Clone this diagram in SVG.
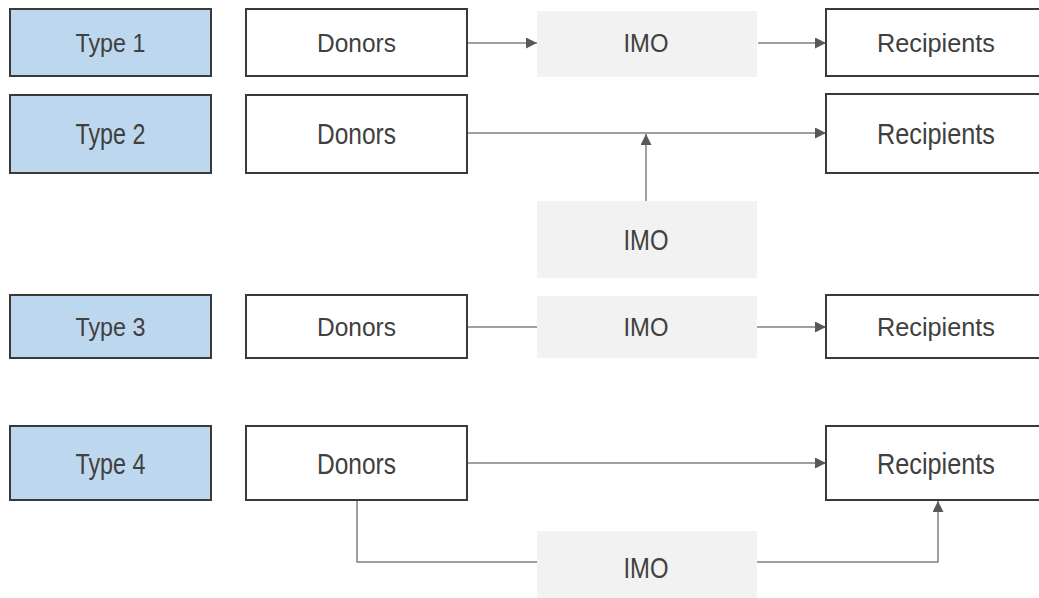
<svg xmlns="http://www.w3.org/2000/svg" width="1039" height="598" viewBox="0 0 1039 598">
  <style>
    .type { fill: #BDD7EE; stroke: #3a3a3a; stroke-width: 2; }
    .party { fill: #FFFFFF; stroke: #3a3a3a; stroke-width: 2; }
    .imo { fill: #F2F2F2; stroke: none; }
    .lbl { font-family: "Liberation Sans", Arial, sans-serif; fill: #404040; text-anchor: middle; }
    .sm { font-size: 26px; }
    .lg { font-size: 29px; }
    .link { fill: none; stroke: #808080; stroke-width: 1.5; }
  </style>
  <defs>
    <marker id="arrow" markerUnits="userSpaceOnUse" markerWidth="11" markerHeight="11" refX="11" refY="5.5" orient="auto">
      <path d="M0,0 L11,5.5 L0,11 z" fill="#595959"/>
    </marker>
  </defs>

  <!-- connectors -->
  <g id="connectors">
    <!-- type 1 -->
    <line class="link" x1="467" y1="43" x2="537" y2="43" marker-end="url(#arrow)"/>
    <line class="link" x1="758" y1="43" x2="826" y2="43" marker-end="url(#arrow)"/>
    <!-- type 2 -->
    <line class="link" x1="467" y1="133" x2="826" y2="133" marker-end="url(#arrow)"/>
    <line class="link" x1="646" y1="201" x2="646" y2="134" marker-end="url(#arrow)"/>
    <!-- type 3 -->
    <line class="link" x1="467" y1="327" x2="537" y2="327"/>
    <line class="link" x1="757" y1="327" x2="826" y2="327" marker-end="url(#arrow)"/>
    <!-- type 4 -->
    <line class="link" x1="467" y1="463" x2="826" y2="463" marker-end="url(#arrow)"/>
    <polyline class="link" points="357,500 357,562 537,562"/>
    <polyline class="link" points="757,562 938,562 938,501" marker-end="url(#arrow)"/>
  </g>

  <!-- row 1 -->
  <g id="type1">
    <rect class="type" x="10" y="9" width="201" height="67"/>
    <text class="lbl sm" x="110.5" y="52" textLength="70" lengthAdjust="spacingAndGlyphs">Type 1</text>
  </g>
  <g id="donors1">
    <rect class="party" x="246" y="9" width="221" height="67"/>
    <text class="lbl sm" x="356.5" y="52" textLength="79" lengthAdjust="spacingAndGlyphs">Donors</text>
  </g>
  <g id="imo1">
    <rect class="imo" x="537" y="11" width="220" height="66"/>
    <text class="lbl sm" x="646" y="52" textLength="45" lengthAdjust="spacingAndGlyphs">IMO</text>
  </g>
  <g id="recipients1">
    <rect class="party" x="826" y="9" width="222" height="67"/>
    <text class="lbl sm" x="936" y="52" textLength="118" lengthAdjust="spacingAndGlyphs">Recipients</text>
  </g>

  <!-- row 2 -->
  <g id="type2">
    <rect class="type" x="10" y="95" width="201" height="78"/>
    <text class="lbl lg" x="110.5" y="144" textLength="70" lengthAdjust="spacingAndGlyphs">Type 2</text>
  </g>
  <g id="donors2">
    <rect class="party" x="246" y="95" width="221" height="78"/>
    <text class="lbl lg" x="356.5" y="144" textLength="79" lengthAdjust="spacingAndGlyphs">Donors</text>
  </g>
  <g id="recipients2">
    <rect class="party" x="826" y="94" width="222" height="79"/>
    <text class="lbl lg" x="936" y="144" textLength="118" lengthAdjust="spacingAndGlyphs">Recipients</text>
  </g>
  <g id="imo2">
    <rect class="imo" x="537" y="201" width="220" height="77"/>
    <text class="lbl lg" x="646" y="250" textLength="45" lengthAdjust="spacingAndGlyphs">IMO</text>
  </g>

  <!-- row 3 -->
  <g id="type3">
    <rect class="type" x="10" y="295" width="201" height="63"/>
    <text class="lbl sm" x="110.5" y="336" textLength="70" lengthAdjust="spacingAndGlyphs">Type 3</text>
  </g>
  <g id="donors3">
    <rect class="party" x="246" y="295" width="221" height="63"/>
    <text class="lbl sm" x="356.5" y="336" textLength="79" lengthAdjust="spacingAndGlyphs">Donors</text>
  </g>
  <g id="imo3">
    <rect class="imo" x="537" y="296" width="220" height="62"/>
    <text class="lbl sm" x="646" y="336" textLength="45" lengthAdjust="spacingAndGlyphs">IMO</text>
  </g>
  <g id="recipients3">
    <rect class="party" x="826" y="295" width="222" height="63"/>
    <text class="lbl sm" x="936" y="336" textLength="118" lengthAdjust="spacingAndGlyphs">Recipients</text>
  </g>

  <!-- row 4 -->
  <g id="type4">
    <rect class="type" x="10" y="426" width="201" height="74"/>
    <text class="lbl lg" x="110.5" y="474" textLength="70" lengthAdjust="spacingAndGlyphs">Type 4</text>
  </g>
  <g id="donors4">
    <rect class="party" x="246" y="426" width="221" height="74"/>
    <text class="lbl lg" x="356.5" y="474" textLength="79" lengthAdjust="spacingAndGlyphs">Donors</text>
  </g>
  <g id="recipients4">
    <rect class="party" x="826" y="426" width="222" height="74"/>
    <text class="lbl lg" x="936" y="474" textLength="118" lengthAdjust="spacingAndGlyphs">Recipients</text>
  </g>
  <g id="imo4">
    <rect class="imo" x="537" y="531" width="220" height="70"/>
    <text class="lbl lg" x="646" y="578" textLength="45" lengthAdjust="spacingAndGlyphs">IMO</text>
  </g>
</svg>
